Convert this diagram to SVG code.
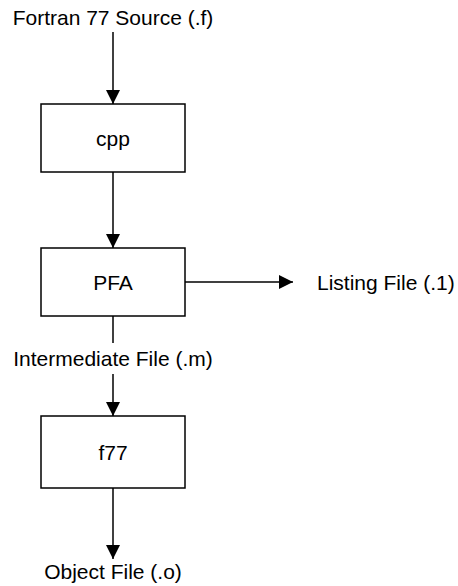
<svg xmlns="http://www.w3.org/2000/svg" width="458" height="586" viewBox="0 0 458 586">
  <style>
    .box { fill: #ffffff; stroke: #000000; stroke-width: 1.5; }
    .edge { fill: none; stroke: #000000; stroke-width: 1.5; }
    .label { font-family: "Liberation Sans", Arial, sans-serif; font-size: 21px; fill: #000000; }
    .mid { text-anchor: middle; }
  </style>
  <defs>
    <marker id="arrow" viewBox="0 0 14 14" refX="14" refY="7" markerWidth="14" markerHeight="14" markerUnits="userSpaceOnUse" orient="auto">
      <path d="M0,0 L14,7 L0,14 Z" fill="#000000"/>
    </marker>
  </defs>
  <rect width="458" height="586" fill="#ffffff"/>

  <!-- labels for files flowing through the pipeline -->
  <g id="source">
    <text class="label mid" x="113" y="25">Fortran 77 Source (.f)</text>
  </g>
  <g id="listing">
    <text class="label" x="317" y="290">Listing File (.1)</text>
  </g>
  <g id="intermediate">
    <text class="label mid" x="113" y="366">Intermediate File (.m)</text>
  </g>
  <g id="object">
    <text class="label mid" x="113" y="579">Object File (.o)</text>
  </g>

  <!-- processing stages -->
  <g id="cpp">
    <rect class="box" x="41" y="104" width="144" height="68"/>
    <text class="label mid" x="113" y="145.5">cpp</text>
  </g>
  <g id="pfa">
    <rect class="box" x="41" y="248" width="144" height="68"/>
    <text class="label mid" x="113" y="289.5">PFA</text>
  </g>
  <g id="f77">
    <rect class="box" x="41" y="416" width="144" height="72"/>
    <text class="label mid" x="113" y="459.5">f77</text>
  </g>

  <!-- connectors -->
  <g id="connectors">
    <line class="edge" x1="113" y1="32" x2="113" y2="104" marker-end="url(#arrow)"/>
    <line class="edge" x1="113" y1="172" x2="113" y2="248" marker-end="url(#arrow)"/>
    <line class="edge" x1="185" y1="282" x2="293" y2="282" marker-end="url(#arrow)"/>
    <line class="edge" x1="113" y1="316" x2="113" y2="343"/>
    <line class="edge" x1="113" y1="374" x2="113" y2="416" marker-end="url(#arrow)"/>
    <line class="edge" x1="113" y1="488" x2="113" y2="559" marker-end="url(#arrow)"/>
  </g>
</svg>
